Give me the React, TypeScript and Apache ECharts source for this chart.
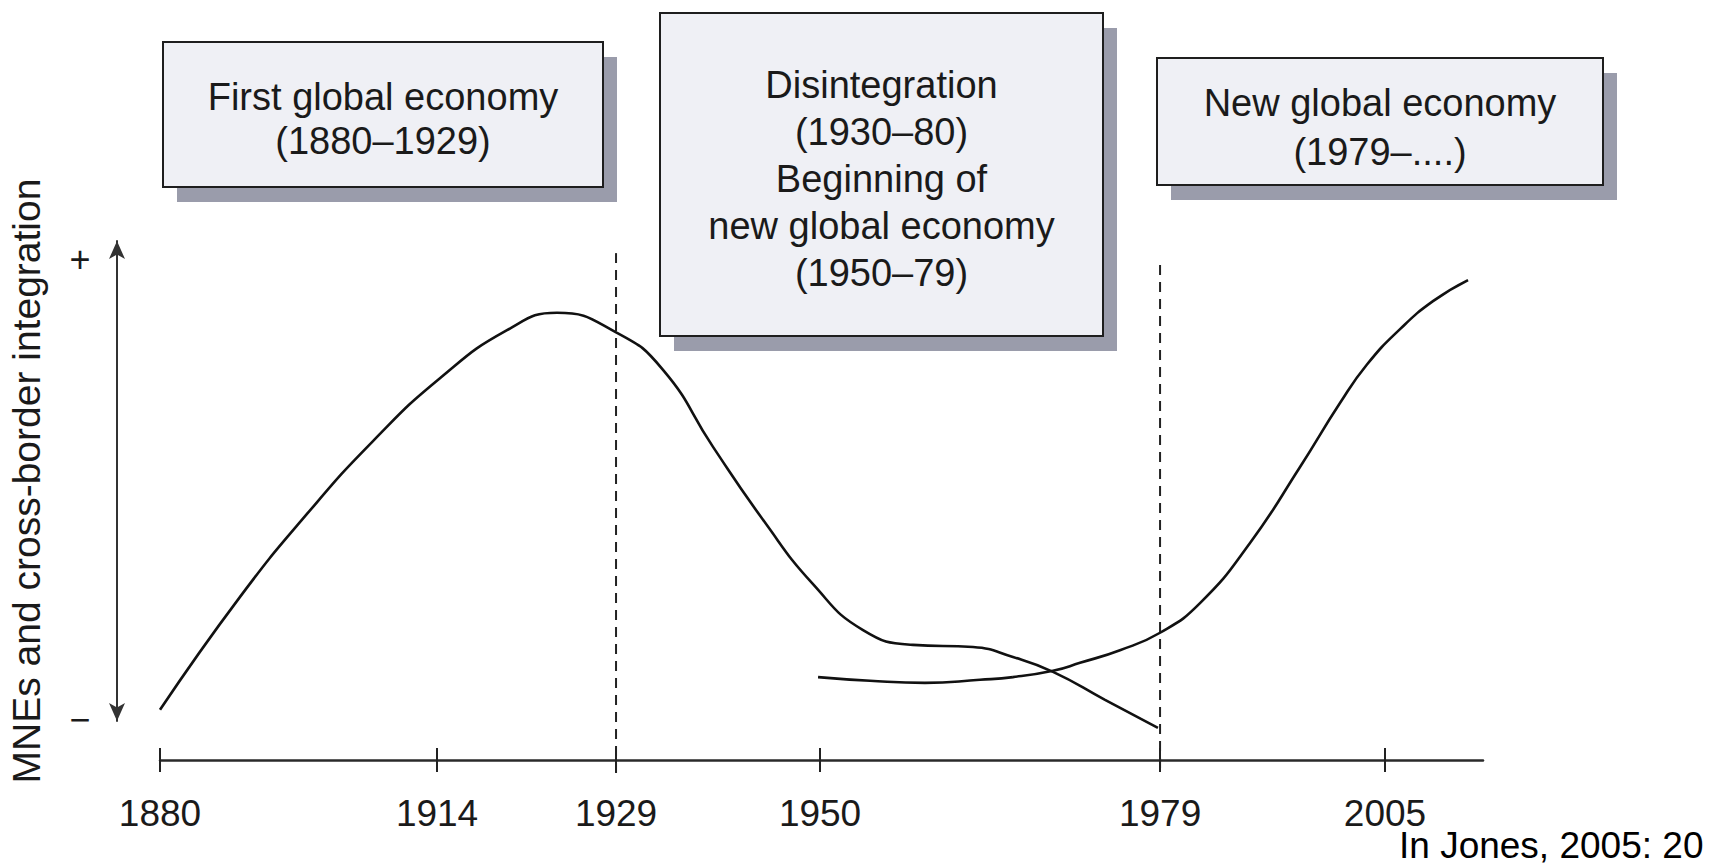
import React, { useEffect, useRef } from 'react';
import * as echarts from 'echarts';

// Tick years and their place on the schematic (non-linear) time axis, 0..100
const tickYears = [1880, 1914, 1929, 1950, 1979, 2005];
const tickPositions = [0, 20.94, 34.47, 49.89, 75.59, 92.59];

// Level of MNE / cross-border integration (0 = "−", 100 = "+") along the schematic axis
const firstWave: [number, number][] = [
  [0, 9.5], [6.05, 30.9], [11.11, 46.6], [16.1, 60.4], [21.16, 72.3], [26.23, 81.4],
  [30.01, 84.7], [34.54, 80.9], [38.02, 73.9], [41.8, 59.3], [45.58, 45.5], [49.36, 33.3],
  [53.14, 24.6], [56.92, 21.8], [61.45, 21.4], [64.47, 19.5], [67.5, 16.7], [71.43, 11.4],
  [75.43, 6.1],
];
const secondWave: [number, number][] = [
  [49.74, 15.7], [53.67, 15.0], [57.82, 14.6], [61.98, 15.2], [64.47, 15.7], [67.5, 16.9],
  [69.54, 18.4], [72.56, 20.8], [75.59, 24.1], [78.61, 29.7], [82.39, 41.1], [86.17, 55.5],
  [89.19, 67.6], [91.23, 74.9], [93.73, 81.6], [96.22, 86.9], [98.87, 90.9],
];

// Dashed period markers
const markerYears = [1929, 1979];
const markerTops = [96.0, 93.75];
const markerBottom = -2.8;

// Period boxes
const boxTexts = [
  ['First global economy', '(1880–1929)'],
  ['Disintegration', '(1930–80)', 'Beginning of', 'new global economy', '(1950–79)'],
  ['New global economy', '(1979–....)'],
];

const yTitle = 'MNEs and cross-border integration';
const citation = 'In Jones, 2005: 20';

const FONT = '"Liberation Sans", Arial, Helvetica, sans-serif';
const INK = '#1a1a1a';

const boxLayout = [
  { x: 163, y: 42, w: 440, h: 145, lh: 44, dy: 4 },
  { x: 660, y: 13, w: 443, h: 323, lh: 47, dy: 4 },
  { x: 1157, y: 58, w: 446, h: 127, lh: 49, dy: 6 },
];

const posOfYear = (y: number) => tickPositions[tickYears.indexOf(y)];

export default function App() {
  const ref = useRef<HTMLDivElement>(null);

  useEffect(() => {
    if (!ref.current) return;
    const chart = echarts.init(ref.current, null, { renderer: 'svg' });

    const graphics: any[] = [];
    boxTexts.forEach((lines, i) => {
      const b = boxLayout[i];
      graphics.push({
        type: 'rect',
        shape: { x: b.x + 14, y: b.y + 15, width: b.w, height: b.h },
        style: { fill: '#9a9cab' },
        z: 1,
      });
      graphics.push({
        type: 'rect',
        shape: { x: b.x, y: b.y, width: b.w, height: b.h },
        style: { fill: '#eff0f5', stroke: '#1e1e1e', lineWidth: 2 },
        z: 2,
      });
      graphics.push({
        type: 'text',
        x: b.x + b.w / 2,
        y: b.y + b.h / 2 + b.dy,
        style: {
          text: lines.join('\n'),
          fill: INK,
          fontSize: 38,
          fontFamily: FONT,
          lineHeight: b.lh,
          align: 'center',
          verticalAlign: 'middle',
        },
        z: 3,
      });
    });
    graphics.push({
      type: 'text', x: 80, y: 259,
      style: { text: '+', fill: INK, fontSize: 36, fontFamily: FONT, align: 'center', verticalAlign: 'middle' },
    });
    graphics.push({
      type: 'text', x: 80, y: 719,
      style: { text: '−', fill: INK, fontSize: 36, fontFamily: FONT, align: 'center', verticalAlign: 'middle' },
    });
    graphics.push({
      type: 'text', x: 1399, y: 845,
      style: { text: citation, fill: '#000', fontSize: 37, fontFamily: FONT, align: 'left', verticalAlign: 'middle' },
    });

    const labelFor = (v: number) => {
      const i = tickPositions.findIndex((p) => Math.abs(p - v) < 0.001);
      return i >= 0 ? String(tickYears[i]) : '';
    };

    const markerSeries = markerYears.map((yr, i) => ({
      type: 'line',
      xAxisIndex: 0,
      yAxisIndex: 0,
      data: [[posOfYear(yr), markerTops[i]], [posOfYear(yr), markerBottom]],
      symbol: 'none',
      clip: false,
      silent: true,
      lineStyle: { color: '#222', width: 2, type: [10, 7] },
      z: 1,
    }));

    const option: any = {
      animation: false,
      backgroundColor: '#ffffff',
      grid: [
        { left: 160, right: 227, top: 232, bottom: 104 },
        { left: 117, width: 10, top: 241, bottom: 143 },
      ],
      xAxis: [
        {
          gridIndex: 0, type: 'value', min: 0, max: 100, position: 'bottom',
          axisLine: { show: true, onZero: false, lineStyle: { color: '#2a2a2a', width: 2.5 } },
          axisTick: { show: true, customValues: tickPositions, inside: false, length: 12, lineStyle: { color: '#222', width: 2 } },
          axisLabel: {
            show: true, customValues: tickPositions, formatter: labelFor, margin: 35,
            fontSize: 37, fontFamily: FONT, color: INK,
          },
          splitLine: { show: false },
        },
        {
          gridIndex: 0, type: 'value', min: 0, max: 100, position: 'bottom',
          axisLine: { show: false, onZero: false },
          axisTick: { show: true, customValues: tickPositions, inside: true, length: 12, lineStyle: { color: '#222', width: 2 } },
          axisLabel: { show: false },
          splitLine: { show: false },
        },
        { gridIndex: 1, type: 'value', min: 0, max: 1, show: false },
      ],
      yAxis: [
        { gridIndex: 0, type: 'value', min: 0, max: 100, show: false },
        {
          gridIndex: 1, type: 'value', min: 0, max: 100,
          axisLine: {
            show: true, onZero: false, symbol: ['arrow', 'arrow'], symbolSize: [12, 18],
            lineStyle: { color: '#333', width: 2 },
          },
          axisTick: { show: false },
          axisLabel: { show: false },
          splitLine: { show: false },
          name: yTitle,
          nameLocation: 'middle',
          nameRotate: 90,
          nameGap: 71,
          nameTextStyle: { fontSize: 39, fontFamily: FONT, color: INK },
        },
      ],
      series: [
        ...markerSeries,
        {
          name: 'First global economy',
          type: 'line', xAxisIndex: 0, yAxisIndex: 0,
          data: firstWave, smooth: 0.5, symbol: 'none', clip: false,
          lineStyle: { color: '#111', width: 2.6 }, z: 3,
        },
        {
          name: 'New global economy',
          type: 'line', xAxisIndex: 0, yAxisIndex: 0,
          data: secondWave, smooth: 0.5, symbol: 'none', clip: false,
          lineStyle: { color: '#111', width: 2.6 }, z: 3,
        },
      ],
      graphic: graphics,
    };

    chart.setOption(option);
    return () => chart.dispose();
  }, []);

  return (
    <div
      ref={ref}
      style={{ position: 'fixed', left: 0, top: 0, width: 1710, height: 864, background: '#fff' }}
    />
  );
}
